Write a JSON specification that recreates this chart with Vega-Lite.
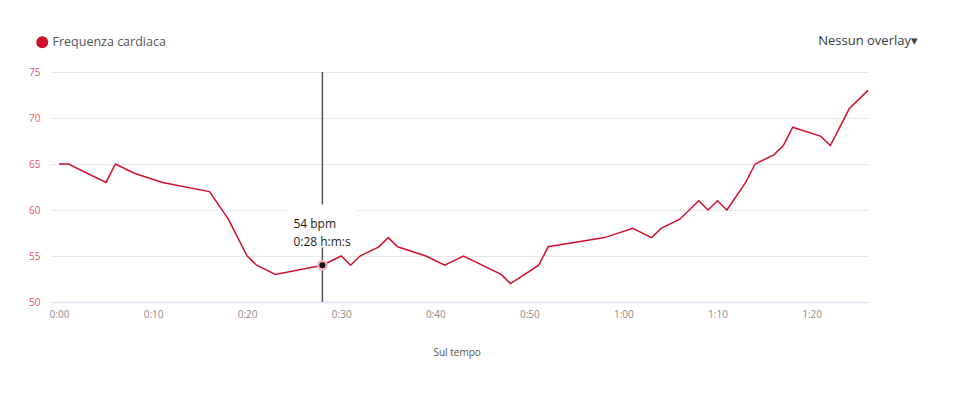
{
  "$schema": "https://vega.github.io/schema/vega-lite/v6.json",
  "width": 817,
  "height": 230,
  "autosize": "none",
  "padding": {"left": 51, "top": 72, "right": 92, "bottom": 112},
  "background": "white",
  "title": {"text": "Nessun overlay▾", "anchor": "end", "orient": "top", "fontSize": 13, "fontWeight": "normal", "font": "Open Sans", "color": "#3a3a3a", "offset": 24, "dx": 47, "dy": 36},
  "config": {"view": {"stroke": null}, "font": "Open Sans"},
  "datasets": {
    "hr": [
      {"t": 0, "hr": 65}, {"t": 1, "hr": 65}, {"t": 5, "hr": 63}, {"t": 6, "hr": 65}, {"t": 8, "hr": 64},
      {"t": 11, "hr": 63}, {"t": 16, "hr": 62}, {"t": 18, "hr": 59}, {"t": 20, "hr": 55}, {"t": 21, "hr": 54},
      {"t": 23, "hr": 53}, {"t": 28, "hr": 54}, {"t": 30, "hr": 55}, {"t": 31, "hr": 54}, {"t": 32, "hr": 55},
      {"t": 34, "hr": 56}, {"t": 35, "hr": 57}, {"t": 36, "hr": 56}, {"t": 39, "hr": 55}, {"t": 41, "hr": 54},
      {"t": 43, "hr": 55}, {"t": 47, "hr": 53}, {"t": 48, "hr": 52}, {"t": 51, "hr": 54}, {"t": 52, "hr": 56},
      {"t": 58, "hr": 57}, {"t": 61, "hr": 58}, {"t": 63, "hr": 57}, {"t": 64, "hr": 58}, {"t": 66, "hr": 59},
      {"t": 68, "hr": 61}, {"t": 69, "hr": 60}, {"t": 70, "hr": 61}, {"t": 71, "hr": 60}, {"t": 73, "hr": 63},
      {"t": 74, "hr": 65}, {"t": 76, "hr": 66}, {"t": 77, "hr": 67}, {"t": 78, "hr": 69}, {"t": 81, "hr": 68},
      {"t": 82, "hr": 67}, {"t": 84, "hr": 71}, {"t": 86, "hr": 73}
    ]
  },
  "data": {"name": "hr"},
  "encoding": {
    "x": {
      "field": "t", "type": "quantitative",
      "scale": {"domain": [-0.85, 86], "nice": false, "zero": false},
      "axis": {
        "values": [0, 10, 20, 30, 40, 50, 60, 70, 80],
        "labelExpr": "floor(datum.value/60) + ':' + (datum.value%60 < 10 ? '0' : '') + (datum.value%60)",
        "grid": false, "ticks": false, "domain": true, "domainColor": "#dde3ee", "domainWidth": 1.5,
        "labelColor": "#8a8a8a", "labelFontSize": 10, "labelPadding": 7, "labelFlush": false,
        "title": "Sul tempo", "titleX": 382, "titleY": 50, "titleAlign": "left", "titleBaseline": "middle",
        "titleFontSize": 10, "titleFontWeight": "normal", "titleColor": "#555"
      }
    },
    "y": {
      "field": "hr", "type": "quantitative",
      "scale": {"domain": [50, 75], "nice": false, "zero": false},
      "axis": {
        "values": [50, 55, 60, 65, 70, 75], "grid": true, "gridColor": "#e8e8e8", "ticks": false, "domain": false,
        "labelColor": "#e3566b", "labelFontSize": 10, "labelPadding": 11, "title": null
      }
    }
  },
  "layer": [
    {
      "mark": {"type": "line", "strokeWidth": 1.5, "clip": false},
      "encoding": {
        "color": {
          "datum": "Frequenza cardiaca", "type": "nominal",
          "scale": {"range": ["#d0112b"]},
          "legend": {
            "orient": "none", "legendX": -15, "legendY": -36, "title": null,
            "symbolType": "circle", "symbolSize": 36, "symbolStrokeWidth": 6,
            "labelFontSize": 12.5, "labelColor": "#555", "labelFont": "Open Sans", "padding": 0, "labelOffset": 4
          }
        }
      }
    },
    {
      "transform": [{"filter": "datum.t == 28"}],
      "mark": {"type": "rule", "color": "#555", "strokeWidth": 1.5},
      "encoding": {"y": null}
    },
    {
      "transform": [{"filter": "datum.t == 28"}],
      "mark": {"type": "point", "shape": "M -1 -1.734 L 1 -1.734 L 1 -0.506 L -1 -0.506 Z", "size": 4900, "filled": true, "color": "white", "opacity": 1, "strokeWidth": 0}
    },
    {
      "transform": [{"filter": "datum.t == 28"}],
      "mark": {"type": "point", "shape": "circle", "size": 121, "filled": true, "color": "#f2b3be", "opacity": 1}
    },
    {
      "transform": [{"filter": "datum.t == 28"}],
      "mark": {"type": "point", "shape": "circle", "size": 36, "filled": true, "color": "#111", "opacity": 1}
    },
    {
      "transform": [{"filter": "datum.t == 28"}, {"calculate": "datum.hr + ' bpm'", "as": "lab"}],
      "mark": {"type": "text", "align": "left", "baseline": "middle", "dx": -29, "dy": -41.5, "fontSize": 12, "color": "#222", "font": "Open Sans"},
      "encoding": {"text": {"field": "lab"}}
    },
    {
      "transform": [{"filter": "datum.t == 28"}, {"calculate": "floor(datum.t/60) + ':' + (datum.t%60 < 10 ? '0' : '') + (datum.t%60) + ' h:m:s'", "as": "lab"}],
      "mark": {"type": "text", "align": "left", "baseline": "middle", "dx": -29, "dy": -23, "fontSize": 12, "color": "#222", "font": "Open Sans"},
      "encoding": {"text": {"field": "lab"}}
    }
  ]
}
